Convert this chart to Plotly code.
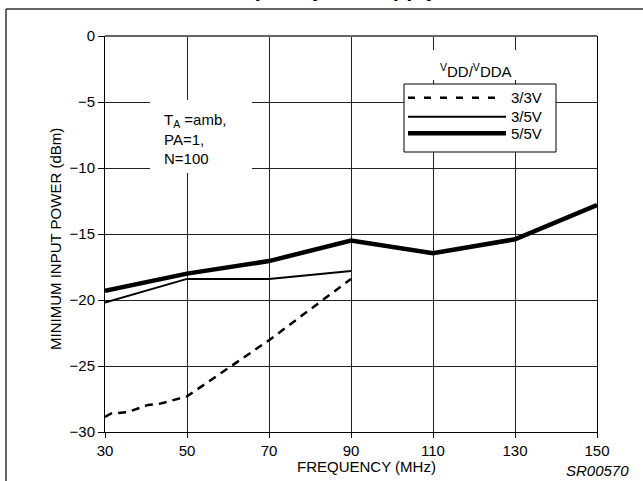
import plotly.graph_objects as go

# ---------------- data ----------------
freq_55 = [30, 50, 70, 90, 110, 130, 150]
power_55 = [-19.3, -18.0, -17.05, -15.5, -16.45, -15.4, -12.8]

freq_35 = [30, 50, 70, 90]
power_35 = [-20.2, -18.4, -18.4, -17.8]

freq_33 = [30, 31.5, 35.5, 40.5, 43.5, 50, 70, 90]
power_33 = [-28.85, -28.6, -28.5, -27.95, -27.85, -27.3, -23.05, -18.4]

x_ticks = [30, 50, 70, 90, 110, 130, 150]
y_ticks = [0, -5, -10, -15, -20, -25, -30]
series_names = ["3/3V", "3/5V", "5/5V"]

# ---------------- layout helpers ----------------
W, H = 643, 481
L, R, T, B = 105, 46, 36, 49
PW, PH = W - L - R, H - T - B


def px(x):
    return (x - L) / PW


def py(y):
    return (H - B - y) / PH


FONT = "Liberation Sans, Arial, sans-serif"

fig = go.Figure()
fig.add_trace(go.Scatter(x=freq_33, y=power_33, mode="lines", name=series_names[0],
                         line=dict(color="black", width=2.5, dash="8px,6px")))
fig.add_trace(go.Scatter(x=freq_35, y=power_35, mode="lines", name=series_names[1],
                         line=dict(color="black", width=2)))
fig.add_trace(go.Scatter(x=freq_55, y=power_55, mode="lines", name=series_names[2],
                         line=dict(color="black", width=4.5)))

shapes = []
# white patches that interrupt the grid behind the labels
shapes.append(dict(type="rect", xref="paper", yref="paper", layer="above",
                   x0=px(150), x1=px(252), y0=py(173), y1=py(100),
                   fillcolor="white", line=dict(width=0)))
shapes.append(dict(type="rect", xref="paper", yref="paper", layer="above",
                   x0=px(425), x1=px(528), y0=py(80), y1=py(50),
                   fillcolor="white", line=dict(width=0)))
# legend box
shapes.append(dict(type="rect", xref="paper", yref="paper", layer="above",
                   x0=px(404), x1=px(556), y0=py(152), y1=py(84),
                   fillcolor="white", line=dict(color="black", width=1)))
# legend samples
leg_rows = [97.7, 116.7, 133.3]
leg_styles = [dict(color="black", width=2.5, dash="7px,9px"),
              dict(color="black", width=2),
              dict(color="black", width=4.5)]
leg_ends = [497, 506, 506]
for yy, st, xe in zip(leg_rows, leg_styles, leg_ends):
    shapes.append(dict(type="line", xref="paper", yref="paper", layer="above",
                       x0=px(408), x1=px(xe), y0=py(yy), y1=py(yy), line=st))
# outer frame (left and top)
shapes.append(dict(type="line", xref="paper", yref="paper",
                   x0=px(6), x1=px(6), y0=py(9), y1=py(495),
                   line=dict(color="#333", width=1.5)))
shapes.append(dict(type="line", xref="paper", yref="paper",
                   x0=px(6), x1=px(660), y0=py(9), y1=py(9),
                   line=dict(color="#333", width=1.5)))

annotations = []
for yy, name in zip(leg_rows, series_names):
    annotations.append(dict(xref="paper", yref="paper", x=px(509), y=py(yy),
                            xanchor="left", yanchor="middle", showarrow=False,
                            text=name, font=dict(family=FONT, size=15, color="black")))
annotations.append(dict(xref="paper", yref="paper", x=px(476), y=py(70),
                        xanchor="center", yanchor="middle", showarrow=False,
                        text="<sup>V</sup>DD/<sup>V</sup>DDA",
                        font=dict(family=FONT, size=15, color="black")))
annotations.append(dict(xref="paper", yref="paper", x=px(162), y=py(139),
                        xanchor="left", yanchor="middle", showarrow=False, align="left",
                        text="T<sub>A</sub> =amb,<br>PA=1,<br>N=100",
                        font=dict(family=FONT, size=15, color="black")))
annotations.append(dict(xref="paper", yref="paper", x=px(366), y=py(466),
                        xanchor="center", yanchor="middle", showarrow=False,
                        text="FREQUENCY (MHz)",
                        font=dict(family=FONT, size=15, color="black")))
annotations.append(dict(xref="paper", yref="paper", x=px(55), y=py(239),
                        xanchor="center", yanchor="middle", showarrow=False,
                        textangle=-90, text="MINIMUM INPUT POWER (dBm)",
                        font=dict(family=FONT, size=15, color="black")))
annotations.append(dict(xref="paper", yref="paper", x=px(631), y=py(470),
                        xanchor="right", yanchor="middle", showarrow=False,
                        text="<i>SR00570</i>",
                        font=dict(family=FONT, size=15, color="black")))
annotations.append(dict(xref="paper", yref="paper", x=px(326), y=py(-11),
                        xanchor="center", yanchor="middle", showarrow=False,
                        text="<b>Frequency vs. supply</b>",
                        font=dict(family=FONT, size=22, color="black")))

fig.update_layout(
    width=W, height=H, autosize=False,
    margin=dict(l=L, r=R, t=T, b=B, pad=0),
    paper_bgcolor="white", plot_bgcolor="white",
    showlegend=False,
    shapes=shapes, annotations=annotations,
    font=dict(family=FONT, size=15, color="black"),
)
fig.update_xaxes(range=[30, 150], tickvals=x_ticks, ticktext=[str(v) for v in x_ticks],
                 showgrid=True, gridcolor="#222", gridwidth=1,
                 showline=True, linecolor="black", linewidth=1, mirror=False,
                 ticks="outside", ticklen=5, tickcolor="black",
                 tickfont=dict(family=FONT, size=15, color="black"), zeroline=False)
fig.update_yaxes(range=[-30, 0], tickvals=y_ticks,
                 showgrid=True, gridcolor="#222", gridwidth=1,
                 showline=True, linecolor="black", linewidth=1, mirror=True,
                 ticks="outside", ticklen=6, tickcolor="black",
                 tickfont=dict(family=FONT, size=15, color="black"),
                 zeroline=True, zerolinecolor="#666", zerolinewidth=2)

fig.write_html("out.html", config={"displayModeBar": False},
               post_script="document.body.style.margin='0px';document.body.style.overflow='hidden';")
